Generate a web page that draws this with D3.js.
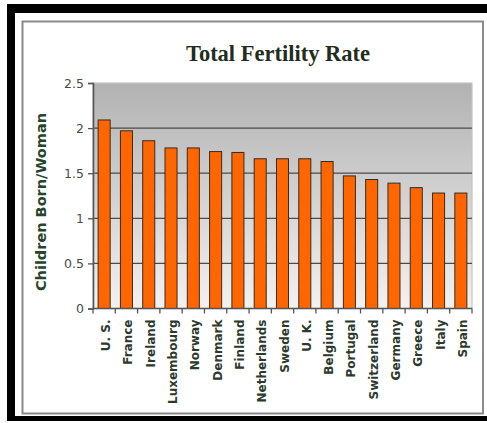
<!DOCTYPE html>
<html>
<head>
<meta charset="utf-8">
<script src="https://cdn.jsdelivr.net/npm/d3@7"></script>
<style>
  html, body { margin: 0; padding: 0; background: #fff; }
  svg { display: block; }
</style>
</head>
<body>
<svg id="chart" width="487" height="423"></svg>
<script>
// Total fertility rate by country (children born per woman)
const countries = ["U. S.", "France", "Ireland", "Luxembourg", "Norway", "Denmark", "Finland",
  "Netherlands", "Sweden", "U. K.", "Belgium", "Portugal", "Switzerland", "Germany",
  "Greece", "Italy", "Spain"];
const fertility = [2.09, 1.97, 1.86, 1.78, 1.78, 1.74, 1.73, 1.66, 1.66, 1.66, 1.63,
  1.47, 1.43, 1.39, 1.34, 1.28, 1.28];
const yTicks = [0, 0.5, 1, 1.5, 2, 2.5];
const yTickLabels = ["0", "0.5", "1", "1.5", "2", "2.5"];

const svg = d3.select("#chart");

// Photo-style frame: black band on left/top/bottom, then a grey-bordered white panel
svg.append("rect").attr("x", 7).attr("y", 4).attr("width", 480).attr("height", 417).attr("fill", "#000");
svg.append("rect").attr("x", 15).attr("y", 13).attr("width", 472).attr("height", 403).attr("fill", "#fff");
svg.append("rect").attr("x", 22.5).attr("y", 21.5).attr("width", 460.5).attr("height", 392)
  .attr("fill", "#fff").attr("stroke", "#8a8a8a").attr("stroke-width", 2);

const plot = { left: 93, right: 472, top: 83, bottom: 308.5 };

const x = d3.scaleBand()
  .domain(countries)
  .range([plot.left, plot.right])
  .paddingInner(0.46)
  .paddingOuter(0.23);

const y = d3.scaleLinear()
  .domain([0, 2.5])
  .range([plot.bottom, plot.top]);

// Plot-area gradient
const defs = svg.append("defs");
const grad = defs.append("linearGradient").attr("id", "bg").attr("x1", 0).attr("y1", 0).attr("x2", 0).attr("y2", 1);
grad.append("stop").attr("offset", "0%").attr("stop-color", "#b2b2b2");
grad.append("stop").attr("offset", "100%").attr("stop-color", "#f2f2f2");

svg.append("rect")
  .attr("x", plot.left).attr("y", plot.top)
  .attr("width", plot.right - plot.left).attr("height", plot.bottom - plot.top)
  .attr("fill", "url(#bg)")
  .attr("stroke", "#c4c4c4").attr("stroke-width", 1.2);

// Horizontal gridlines
svg.append("g")
  .selectAll("line")
  .data(yTicks.filter(t => t > 0 && t < 2.5))
  .join("line")
  .attr("x1", plot.left).attr("x2", plot.right)
  .attr("y1", d => y(d)).attr("y2", d => y(d))
  .attr("stroke", "#4d4d4d").attr("stroke-width", 1.3);

// Bars
svg.append("g")
  .selectAll("rect")
  .data(countries)
  .join("rect")
  .attr("x", d => x(d))
  .attr("y", (d, i) => y(fertility[i]))
  .attr("width", x.bandwidth())
  .attr("height", (d, i) => y(0) - y(fertility[i]))
  .attr("fill", "#ff6600")
  .attr("stroke", "#3b2a1e")
  .attr("stroke-width", 1);

// Y axis
const yAxis = d3.axisLeft(y)
  .tickValues(yTicks)
  .tickFormat((d, i) => yTickLabels[i])
  .tickSize(5)
  .tickPadding(4);

const gy = svg.append("g")
  .attr("transform", `translate(${plot.left},0)`)
  .call(yAxis);
gy.select(".domain").attr("stroke", "#555").attr("stroke-width", 1.6);
gy.selectAll(".tick line").attr("stroke", "#555").attr("stroke-width", 1.3);
gy.selectAll(".tick text")
  .attr("fill", "#4a4a4a")
  .style("font-family", "'DejaVu Sans', sans-serif")
  .style("font-size", "12.5px");

// X axis: baseline with ticks between categories
const gx = svg.append("g");
gx.append("line")
  .attr("x1", plot.left).attr("x2", plot.right)
  .attr("y1", plot.bottom).attr("y2", plot.bottom)
  .attr("stroke", "#555").attr("stroke-width", 1.6);
gx.selectAll("line.sep")
  .data(countries.concat(["_end"]))
  .join("line")
  .attr("class", "sep")
  .attr("x1", (d, i) => plot.left + i * (plot.right - plot.left) / countries.length)
  .attr("x2", (d, i) => plot.left + i * (plot.right - plot.left) / countries.length)
  .attr("y1", plot.bottom).attr("y2", plot.bottom + 5)
  .attr("stroke", "#555").attr("stroke-width", 1.3);

// Category labels, rotated
gx.selectAll("text")
  .data(countries)
  .join("text")
  .attr("transform", d => `translate(${x(d) + x.bandwidth() / 2 + 6},${plot.bottom + 11}) rotate(-90)`)
  .attr("text-anchor", "end")
  .attr("fill", "#2c3a2c")
  .style("font-family", "'DejaVu Sans', sans-serif")
  .style("font-weight", "bold")
  .style("font-size", "12px")
  .text(d => d);

// Y axis title
svg.append("text")
  .attr("transform", "translate(46,202) rotate(-90)")
  .attr("text-anchor", "middle")
  .attr("fill", "#26452a")
  .style("font-family", "'DejaVu Sans', sans-serif")
  .style("font-weight", "bold")
  .style("font-size", "14.5px")
  .text("Children Born/Woman");

// Chart title
svg.append("text")
  .attr("x", 278).attr("y", 61)
  .attr("text-anchor", "middle")
  .attr("fill", "#1f2e20")
  .style("font-family", "'Liberation Serif', 'Times New Roman', serif")
  .style("font-weight", "bold")
  .style("font-size", "22.5px")
  .text("Total Fertility Rate");
</script>
</body>
</html>
